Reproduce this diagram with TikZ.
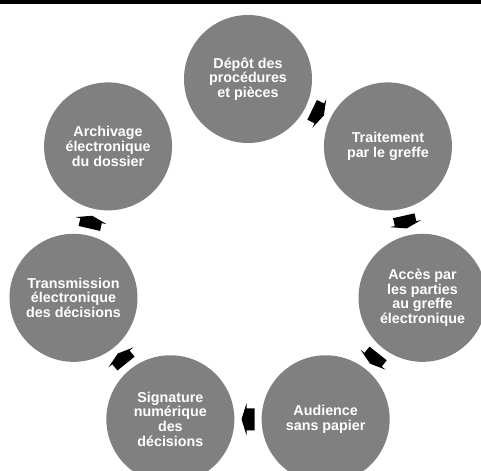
\documentclass[tikz,border=0pt]{standalone}
\usepackage{fontspec}
\setmainfont{Liberation Sans}
\usetikzlibrary{calc}
\definecolor{stepgray}{RGB}{128,128,128}
\begin{document}
\begin{tikzpicture}[x=1bp,y=1bp,
  stepcircle/.style={circle, fill=stepgray, minimum size=128bp, inner sep=0pt,
    align=center, text=white, font=\fontsize{14.3bp}{14.8bp}\selectfont\bfseries},
  cyclearrow/.style={fill=black}]
\useasboundingbox (0,0) rectangle (481,-471);
\clip (0,0) rectangle (481,-471);
\fill[black] (0,0) rectangle (481,-4);
\coordinate (C) at (248,-258);
\node[stepcircle] (n1) at ($(C)+(90:179)$) {Dépôt des\\procédures\\et pièces};
\node[stepcircle] (n2) at ($(C)+(38.571:179)$) {Traitement\\par le greffe};
\node[stepcircle] (n3) at ($(C)+(-12.857:179)$) {Accès par\\les parties\\au greffe\\électronique};
\node[stepcircle] (n4) at ($(C)+(-64.286:179)$) {Audience\\sans papier};
\node[stepcircle] (n5) at ($(C)+(-115.714:179)$) {Signature\\numérique\\des\\décisions};
\node[stepcircle] (n6) at ($(C)+(-167.143:179)$) {Transmission\\électronique\\des décisions};
\node[stepcircle] (n7) at ($(C)+(141.429:179)$) {Archivage\\électronique\\du dossier};
\foreach \a/\b/\ang in {n1/n2/64.286, n2/n3/12.857, n3/n4/-38.571, n4/n5/-90,
                         n5/n6/-141.429, n6/n7/167.143} {
  \begin{scope}[shift={($(\a)!0.5!(\b)$)}, rotate=\ang-90]
    \fill[cyclearrow] (-6.5,11) -- (1.5,11) -- (1.5,16) -- (6.5,0)
      -- (1.5,-16) -- (1.5,-11) -- (-6.5,-11) -- cycle;
  \end{scope}
}
\end{tikzpicture}
\end{document}
